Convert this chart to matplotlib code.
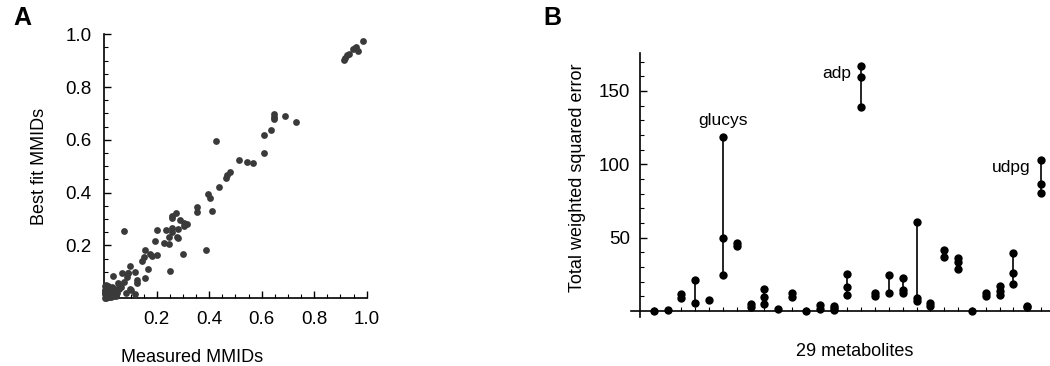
import numpy as np
import matplotlib
matplotlib.use("Agg")
import matplotlib.pyplot as plt
from matplotlib.ticker import MultipleLocator, FixedLocator

plt.rcParams['font.family'] = ['Liberation Sans', 'DejaVu Sans']

# panel A: measured vs best fit MMIDs
measured = [0.915, 0.919, 0.925, 0.931, 0.947, 0.956, 0.968, 0.985, 0.960,
            0.645, 0.645, 0.645, 0.687, 0.729, 0.610, 0.637, 0.607, 0.426,
            0.515, 0.545, 0.568, 0.480, 0.466, 0.465, 0.437, 0.394, 0.404,
            0.410, 0.353, 0.353, 0.388, 0.274, 0.260, 0.260, 0.288, 0.304,
            0.314, 0.304, 0.260, 0.282, 0.234, 0.200, 0.260, 0.248, 0.276,
            0.280, 0.194, 0.227, 0.245, 0.299, 0.200, 0.156, 0.176, 0.182,
            0.151, 0.142, 0.165, 0.156, 0.249, 0.098, 0.074, 0.089, 0.066,
            0.032, 0.117, 0.125, 0.126, 0.085, 0.077, 0.098, 0.119, 0.083,
            0.053, 0.062, 0.090, 0.102, 0.060,
            0.005, 0.010, 0.015, 0.020, 0.025, 0.030, 0.035, 0.040, 0.045,
            0.050, 0.003, 0.008, 0.012, 0.018, 0.022, 0.028, 0.033, 0.038,
            0.043, 0.002, 0.006, 0.011, 0.016, 0.024, 0.031, 0.004, 0.009,
            0.014, 0.019, 0.001, 0.007, 0.013, 0.026, 0.036, 0.047, 0.055,
            0.002, 0.004, 0.012]
best_fit = [0.903, 0.909, 0.922, 0.924, 0.943, 0.947, 0.937, 0.973, 0.950,
            0.697, 0.686, 0.678, 0.692, 0.668, 0.619, 0.636, 0.551, 0.595,
            0.524, 0.518, 0.513, 0.479, 0.468, 0.457, 0.420, 0.395, 0.378,
            0.330, 0.345, 0.327, 0.184, 0.323, 0.312, 0.303, 0.297, 0.284,
            0.280, 0.274, 0.265, 0.261, 0.259, 0.259, 0.250, 0.234, 0.232,
            0.227, 0.218, 0.208, 0.206, 0.169, 0.163, 0.183, 0.168, 0.162,
            0.155, 0.140, 0.112, 0.078, 0.104, 0.124, 0.254, 0.097, 0.095,
            0.085, 0.101, 0.069, 0.059, 0.080, 0.063, 0.037, 0.016, 0.019,
            0.057, 0.044, 0.097, 0.031, 0.050,
            0.010, 0.004, 0.020, 0.008, 0.030, 0.015, 0.040, 0.025, 0.012,
            0.035, 0.045, 0.022, 0.006, 0.033, 0.014, 0.042, 0.018, 0.028,
            0.009, 0.026, 0.002, 0.038, 0.011, 0.005, 0.024, 0.032, 0.016,
            0.046, 0.003, 0.020, 0.050, 0.027, 0.013, 0.007, 0.021, 0.036,
            0.001, 0.017, 0.003]

# panel B: total weighted squared error, several fits per metabolite
errors = [
    [0.0], [1.0], [9.0, 11.5], [5.2, 21.5], [7.3],
    [24.5, 49.7, 118.7], [44.5, 46.5], [3.0, 4.5], [4.8, 9.5, 15.2], [1.1],
    [9.8, 12.0], [0.3], [1.6, 4.0], [0.7, 2.0, 3.5], [10.7, 16.1, 25.0],
    [139.3, 159.5, 167.0], [10.2, 12.0], [12.5, 24.7], [12.0, 14.3, 22.2],
    [6.8, 9.0, 60.8], [3.4, 5.7], [36.8, 41.7], [28.4, 33.4, 36.0], [0.0],
    [10.4, 12.0], [10.7, 13.6, 17.0], [18.4, 25.9, 39.3], [2.5, 3.4],
    [80.1, 86.7, 102.8],
]
labels = {6: "glucys", 16: "adp", 29: "udpg"}

fig = plt.figure(figsize=(10.5, 3.66), dpi=100)

# ---- A ----
axA = fig.add_axes([0.0993, 0.185, 0.2499, 0.7213])
axA.scatter(measured, best_fit, s=24, color='#3a3a3a', linewidths=0, clip_on=False, zorder=3)
axA.set_xlim(0, 1.0)
axA.set_ylim(0, 1.0)
for s in ['top', 'right']:
    axA.spines[s].set_visible(False)
for s in ['left', 'bottom']:
    axA.spines[s].set_linewidth(1.2)
axA.xaxis.set_major_locator(FixedLocator([0.2, 0.4, 0.6, 0.8, 1.0]))
axA.yaxis.set_major_locator(FixedLocator([0.2, 0.4, 0.6, 0.8, 1.0]))
axA.xaxis.set_minor_locator(MultipleLocator(0.05))
axA.yaxis.set_minor_locator(MultipleLocator(0.05))
axA.tick_params(which='major', direction='in', length=5, width=1, labelsize=13.5, pad=9)
axA.tick_params(which='minor', direction='in', length=3, width=0.8)
axA.set_xticklabels(['0.2', '0.4', '0.6', '0.8', '1.0'])
axA.set_yticklabels(['0.2', '0.4', '0.6', '0.8', '1.0'])
fig.text(40 / 1050, 1 - 166 / 366, 'Best fit MMIDs', rotation=90, ha='center', va='center', fontsize=13)
fig.text(192 / 1050, 1 - 358 / 366, 'Measured MMIDs', ha='center', va='center', fontsize=13)
fig.text(22 / 1050, 1 - 18 / 366, 'A', ha='center', va='center', fontsize=18, fontweight='bold')

# ---- B ----
axB = fig.add_axes([631 / 1050, 0.134, 419 / 1050, 0.722])
xs = np.arange(1, len(errors) + 1)
for x, vals in zip(xs, errors):
    if len(vals) > 1:
        axB.plot([x, x], [min(vals), max(vals)], color='black', lw=1.2, zorder=2)
    axB.plot([x] * len(vals), vals, 'o', color='black', ms=6, mec='none', zorder=3, clip_on=False)
axB.set_xlim(-0.65, 29.65)
axB.set_ylim(-4, 176)
axB.spines['left'].set_position(('data', 0))
axB.spines['bottom'].set_position(('data', 0))
for s in ['top', 'right']:
    axB.spines[s].set_visible(False)
for s in ['left', 'bottom']:
    axB.spines[s].set_linewidth(1.2)
axB.set_xticks(xs)
axB.set_xticklabels([])
axB.tick_params(axis='x', direction='in', length=3, width=0.8)
axB.yaxis.set_major_locator(FixedLocator([50, 100, 150]))
axB.yaxis.set_minor_locator(FixedLocator([10, 20, 30, 40, 60, 70, 80, 90, 110, 120, 130, 140, 160, 170]))
axB.tick_params(axis='y', which='major', direction='in', length=5, width=1, labelsize=13.5, pad=7)
axB.tick_params(axis='y', which='minor', direction='in', length=3, width=0.8)
for x, name in labels.items():
    top = max(errors[x - 1])
    if x == 6:
        axB.text(x, top + 6, name, ha='center', va='bottom', fontsize=12.5)
    else:
        axB.text(x - 0.75, top - 5, name, ha='right', va='center', fontsize=12.5)
fig.text(578 / 1050, 1 - 178 / 366, 'Total weighted squared error', rotation=90, ha='center', va='center', fontsize=13)
fig.text(855 / 1050, 1 - 351 / 366, '29 metabolites', ha='center', va='center', fontsize=13)
fig.text(552 / 1050, 1 - 18 / 366, 'B', ha='center', va='center', fontsize=18, fontweight='bold')

fig.savefig('out.png', dpi=100)
